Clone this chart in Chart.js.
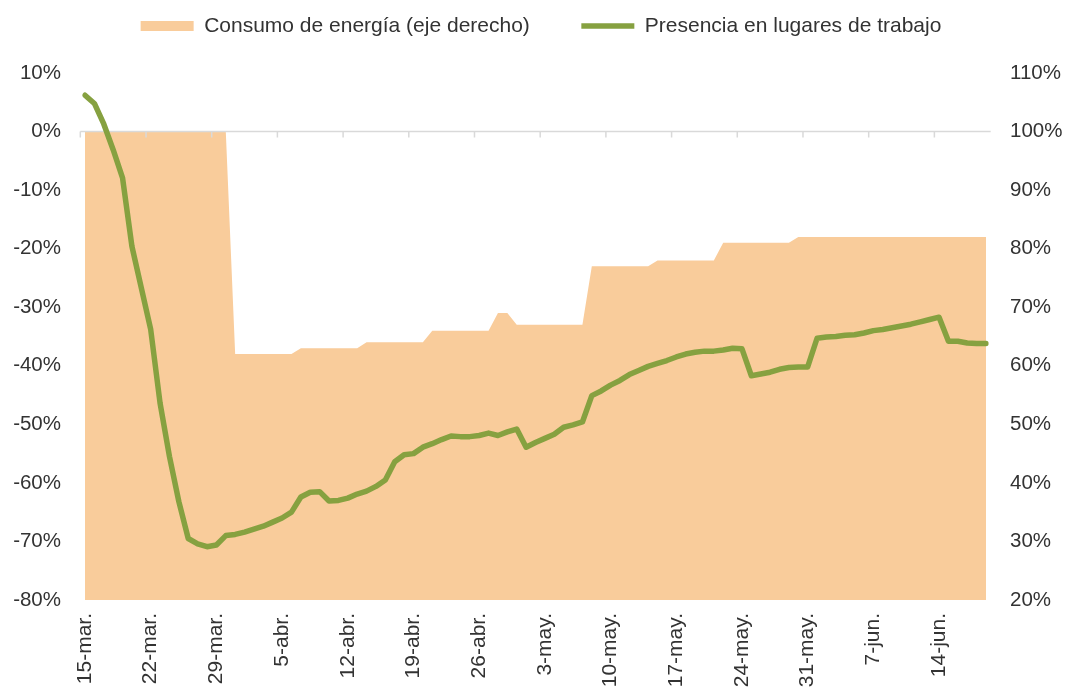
<!DOCTYPE html>
<html>
<head>
<meta charset="utf-8">
<script src="https://cdn.jsdelivr.net/npm/chart.js@4"></script>
<style>
  html, body { margin: 0; padding: 0; background: #ffffff; overflow: hidden; }
  #wrap { width: 1066px; height: 687px; }
</style>
</head>
<body>
<div id="wrap"><canvas id="c" width="1066" height="687"></canvas></div>
<script>
const fechas = [
  "15-mar.","16-mar.","17-mar.","18-mar.","19-mar.","20-mar.","21-mar.","22-mar.","23-mar.","24-mar.",
  "25-mar.","26-mar.","27-mar.","28-mar.","29-mar.","30-mar.","31-mar.",
  "1-abr.","2-abr.","3-abr.","4-abr.","5-abr.","6-abr.","7-abr.","8-abr.","9-abr.","10-abr.",
  "11-abr.","12-abr.","13-abr.","14-abr.","15-abr.","16-abr.","17-abr.","18-abr.","19-abr.","20-abr.",
  "21-abr.","22-abr.","23-abr.","24-abr.","25-abr.","26-abr.","27-abr.","28-abr.","29-abr.","30-abr.",
  "1-may.","2-may.","3-may.","4-may.","5-may.","6-may.","7-may.","8-may.","9-may.","10-may.",
  "11-may.","12-may.","13-may.","14-may.","15-may.","16-may.","17-may.","18-may.","19-may.","20-may.",
  "21-may.","22-may.","23-may.","24-may.","25-may.","26-may.","27-may.","28-may.","29-may.","30-may.","31-may.",
  "1-jun.","2-jun.","3-jun.","4-jun.","5-jun.","6-jun.","7-jun.","8-jun.","9-jun.","10-jun.",
  "11-jun.","12-jun.","13-jun.","14-jun.","15-jun.","16-jun.","17-jun.","18-jun.","19-jun."
];

// Consumo de energía (eje derecho), %
const consumoEnergia = [
  100,100,100,100,100,100,100,100,100,100,100,100,100,100,100,100,
  62,62,62,62,62,62,62,
  63,63,63,63,63,63,63,
  64,64,64,64,64,64,64,
  66,66,66,66,66,66,66,
  69,69,
  67,67,67,67,67,67,67,67,
  77,77,77,77,77,77,77,
  78,78,78,78,78,78,78,
  81,81,81,81,81,81,81,81,
  82,82,82,82,82,82,82,82,82,82,82,82,82,82,82,82,82,82,82,82,82
];

// Presencia en lugares de trabajo (eje izquierdo), %
const presenciaTrabajo = [
  6.2, 4.8, 1.3, -3.1, -7.9, -19.6, -26.7, -33.8, -46.4, -55.5,
  -63.2, -69.5, -70.4, -70.9, -70.6, -69.0, -68.8, -68.4, -67.9, -67.4,
  -66.7, -66.0, -65.0, -62.4, -61.6, -61.5, -63.1, -63.0, -62.6, -61.9,
  -61.4, -60.6, -59.5, -56.4, -55.2, -55.0, -53.9, -53.3, -52.6, -52.0,
  -52.1, -52.1, -51.9, -51.5, -51.9, -51.3, -50.8, -53.9, -53.1, -52.4,
  -51.7, -50.5, -50.1, -49.6, -45.1, -44.3, -43.3, -42.5, -41.5, -40.8,
  -40.1, -39.6, -39.1, -38.5, -38.0, -37.7, -37.5, -37.5, -37.3, -37.0,
  -37.1, -41.7, -41.4, -41.1, -40.6, -40.3, -40.2, -40.2, -35.3, -35.1,
  -35.0, -34.8, -34.7, -34.4, -34.0, -33.8, -33.5, -33.2, -32.9, -32.5,
  -32.1, -31.7, -35.8, -35.8, -36.1, -36.2, -36.2
];

const ticksIzq = [-80, -70, -60, -50, -40, -30, -20, -10, 0, 10];
const ticksDer = [20, 30, 40, 50, 60, 70, 80, 90, 100, 110];

const NARANJA = '#F9CC9B';
const VERDE = '#86A140';
const TEXTO = '#333333';
const FAMILY = '"Liberation Sans", Arial, sans-serif';
const FONT_EJE = { family: FAMILY, size: 20.5 };
const FONT_X = { family: FAMILY, size: 21 };
const FONT_LEY = { family: FAMILY, size: 21 };

Chart.defaults.font.family = FAMILY;
Chart.defaults.font.size = 20;
Chart.defaults.color = TEXTO;

const zeroAxisPlugin = {
  id: 'zeroAxis',
  beforeDatasetDraw(chart, args) {
    if (args.index !== 1) return;
    const xs = chart.scales.x, ys = chart.scales.y;
    const ctx = chart.ctx;
    const step = xs.getPixelForValue(1) - xs.getPixelForValue(0);
    const y0 = ys.getPixelForValue(0);
    const xStart = xs.getPixelForValue(0) - step / 2;
    const xEnd = xs.getPixelForValue(fechas.length - 1) + step / 2;
    ctx.save();
    ctx.strokeStyle = '#D9D9D9';
    ctx.lineWidth = 1.5;
    ctx.beginPath();
    ctx.moveTo(xStart, y0);
    ctx.lineTo(xEnd, y0);
    for (let i = 0; i < fechas.length; i += 7) {
      const tx = xs.getPixelForValue(i) - step / 2;
      ctx.moveTo(tx, y0);
      ctx.lineTo(tx, y0 + 6);
    }
    ctx.stroke();
    ctx.restore();
  }
};

const legendSizePlugin = {
  id: 'legendSize',
  beforeUpdate(chart) {
    const lg = chart.legend;
    if (lg && !lg._sizePatched) {
      const orig = lg.fit.bind(lg);
      lg.fit = function () { orig(); this.height = 109; };
      lg._sizePatched = true;
    }
  }
};

new Chart(document.getElementById('c'), {
  type: 'line',
  data: {
    labels: fechas,
    datasets: [
      {
        label: 'Consumo de energía (eje derecho)',
        data: consumoEnergia,
        yAxisID: 'y1',
        fill: 'start',
        backgroundColor: NARANJA,
        borderColor: 'rgba(0,0,0,0)',
        borderWidth: 0,
        pointRadius: 0,
        pointHoverRadius: 0,
        pointStyle: 'rect',
        tension: 0,
        order: 1
      },
      {
        label: 'Presencia en lugares de trabajo',
        data: presenciaTrabajo,
        yAxisID: 'y',
        fill: false,
        borderColor: VERDE,
        backgroundColor: VERDE,
        borderWidth: 5.5,
        borderCapStyle: 'round',
        borderJoinStyle: 'round',
        pointRadius: 0,
        pointHoverRadius: 0,
        pointStyle: 'line',
        tension: 0,
        order: 0
      }
    ]
  },
  options: {
    responsive: false,
    animation: false,
    devicePixelRatio: 1,
    layout: { padding: { top: -36, left: 0, right: -16, bottom: 0 } },
    plugins: {
      legend: {
        position: 'top',
        align: 'center',
        labels: {
          usePointStyle: true,
          pointStyleWidth: 53,
          boxHeight: 10,
          padding: 51.5,
          color: TEXTO,
          font: FONT_LEY,
          sort: (a, b) => a.datasetIndex - b.datasetIndex
        }
      },
      tooltip: { enabled: false }
    },
    scales: {
      x: {
        type: 'category',
        offset: false,
        grid: { display: false, drawTicks: false },
        border: { display: false },
        ticks: {
          autoSkip: false,
          minRotation: 90,
          maxRotation: 90,
          padding: 13,
          color: TEXTO,
          font: FONT_X,
          callback: (v, i) => (i % 7 === 0 ? fechas[i] : '')
        },
        afterFit: s => { s.height = 87; }
      },
      y: {
        position: 'left',
        min: ticksIzq[0],
        max: ticksIzq[ticksIzq.length - 1],
        grid: { display: false, drawTicks: false },
        border: { display: false },
        afterBuildTicks: s => { s.ticks = ticksIzq.map(v => ({ value: v })); },
        ticks: { padding: 24, color: TEXTO, font: FONT_EJE, callback: v => v + '%' },
        afterFit: s => { s.width = 85; }
      },
      y1: {
        position: 'right',
        min: ticksDer[0],
        max: ticksDer[ticksDer.length - 1],
        grid: { display: false, drawTicks: false },
        border: { display: false },
        afterBuildTicks: s => { s.ticks = ticksDer.map(v => ({ value: v })); },
        ticks: { padding: 24, color: TEXTO, font: FONT_EJE, callback: v => v + '%' },
        afterFit: s => { s.width = 96; }
      }
    }
  },
  plugins: [zeroAxisPlugin, legendSizePlugin]
});
</script>
</body>
</html>
